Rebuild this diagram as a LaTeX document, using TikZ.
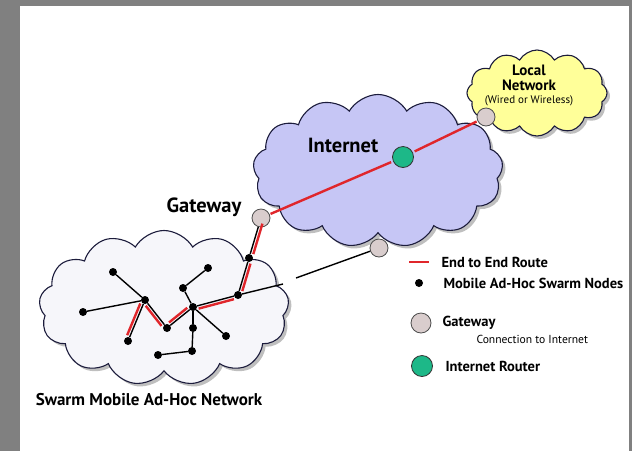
\documentclass[tikz,border=0pt]{standalone}
\usepackage{fontspec}
\setmainfont{PT Sans}
\usetikzlibrary{shapes.symbols, shadows, calc}
\definecolor{netblue}{HTML}{C6C6F5}
\definecolor{lanyellow}{HTML}{FFFF99}
\definecolor{swarmwhite}{HTML}{F6F6FA}
\definecolor{cloudline}{HTML}{1C1C3C}
\definecolor{routered}{HTML}{E0262B}
\definecolor{gwgray}{HTML}{D9CDCD}
\definecolor{routergreen}{HTML}{1DB888}

% red hop drawn beside a link, on side #3 (90 or -90)
\newcommand{\routeseg}[3]{%
  \draw[route, shorten <=5pt, shorten >=5pt]
    ($(#1)!3pt!#3:(#2)$) -- ($(#2)!3pt!-#3:(#1)$);}

\begin{document}
\begin{tikzpicture}[
    x=1pt, y=-1pt,
    cloudbox/.style={cloud, cloud puffs=13, cloud puff arc=120, draw=cloudline,
      line width=1.1pt, inner sep=0pt,
      drop shadow={shadow xshift=3pt, shadow yshift=-3pt, fill=black!50}},
    swarmnode/.style={circle, fill=black, inner sep=0pt, minimum size=8pt},
    gateway/.style={circle, draw=black!70, fill=gwgray, line width=0.8pt,
      inner sep=0pt, minimum size=18pt},
    router/.style={circle, draw=black!80, fill=routergreen, line width=0.8pt,
      inner sep=0pt, minimum size=21pt},
    link/.style={line width=1.4pt},
    route/.style={routered, line width=2.4pt},
    title/.style={font=\bfseries\fontsize{20.5}{22}\selectfont},
    lantext/.style={font=\bfseries\fontsize{15}{15}\selectfont, inner sep=0pt},
    legend/.style={font=\bfseries\fontsize{14.5}{16}\selectfont, anchor=west},
  ]
  % frame
  \fill[black!50] (0,0) rectangle (632,451);
  \fill[white] (20,6) rectangle (629,451);
  \useasboundingbox (0,0) rectangle (632,451);

  % clouds
  \node[cloudbox, fill=swarmwhite, minimum width=250pt, minimum height=155pt] (swarm) at (164,308) {};
  \node[cloudbox, fill=netblue, minimum width=250pt, minimum height=153pt] (internet) at (378,171) {};
  \node[cloudbox, fill=lanyellow, cloud puffs=12, minimum width=140pt, minimum height=86pt] (lan) at (537,93) {};

  % labels
  \node[title] (gwlabel) at (204,207) {Gateway};
  \node[title] (netlabel) at (343,145) {Internet};
  \node[font=\bfseries\fontsize{17}{19}\selectfont] (swarmlabel) at (149,400) {Swarm Mobile Ad-Hoc Network};
  \node[lantext] (lanname) at (529,70) {Local};
  \node[lantext] (lantype) at (529,85) {Network};
  \node[font=\fontsize{11}{12}\selectfont, inner sep=0pt] (lanmedia) at (529,101) {(Wired or Wireless)};

  % gateways and router
  \node[gateway] (g1) at (261,218) {};
  \node[gateway] (g2) at (379,248) {};
  \node[gateway] (g3) at (486,117) {};
  \node[router] (rt) at (403,157) {};

  % swarm nodes
  \node[swarmnode] (A) at (113,272) {};
  \node[swarmnode] (B) at (145,300) {};
  \node[swarmnode] (C) at (83,312) {};
  \node[swarmnode] (D) at (128,341) {};
  \node[swarmnode] (E) at (167,328) {};
  \node[swarmnode] (F) at (193,307) {};
  \node[swarmnode] (G) at (183,288) {};
  \node[swarmnode] (H) at (208,268) {};
  \node[swarmnode] (I) at (193,328) {};
  \node[swarmnode] (J) at (192,351) {};
  \node[swarmnode] (K) at (158,355) {};
  \node[swarmnode] (L) at (226,336) {};
  \node[swarmnode] (M) at (238,295) {};
  \node[swarmnode] (N) at (249,258) {};

  % links
  \foreach \a/\b in {A/B, C/B, B/D, B/E, E/F, F/G, G/H, F/I, I/J, J/K, F/L, F/M, M/N, N/g1}
    \draw[link] (\a) -- (\b);
  \coordinate (edgein) at (283,284);
  \coordinate (edgeout) at (296,278);
  \draw[link] (M) -- (edgein);
  \draw[link] (edgeout) -- (g2);

  % end to end route
  \draw[route, shorten <=1pt, shorten >=2pt] (g1) -- (rt);
  \draw[route, shorten <=2pt, shorten >=1pt] (rt) -- (g3);
  \routeseg{g1}{N}{90}
  \routeseg{N}{M}{90}
  \routeseg{M}{F}{90}
  \routeseg{F}{E}{-90}
  \routeseg{E}{B}{90}
  \routeseg{B}{D}{-90}

  % legend
  \coordinate (keya) at (409,262);
  \coordinate (keyb) at (429,262);
  \draw[route] (keya) -- (keyb);
  \node[legend] (keyroute) at (438,262) {End to End Route};
  \node[swarmnode] (keynode) at (419,283) {};
  \node[legend] (keynodetext) at (440,283) {Mobile Ad-Hoc Swarm Nodes};
  \node[gateway, minimum size=20pt] (keygw) at (421,323) {};
  \node[legend] (keygwtext) at (439,323) {Gateway};
  \node[font=\fontsize{11.6}{13}\selectfont, anchor=west] (keygwnote) at (473,339) {Connection to Internet};
  \node[router] (keyrt) at (422,366) {};
  \node[legend] (keyrttext) at (442,366) {Internet Router};
\end{tikzpicture}
\end{document}
